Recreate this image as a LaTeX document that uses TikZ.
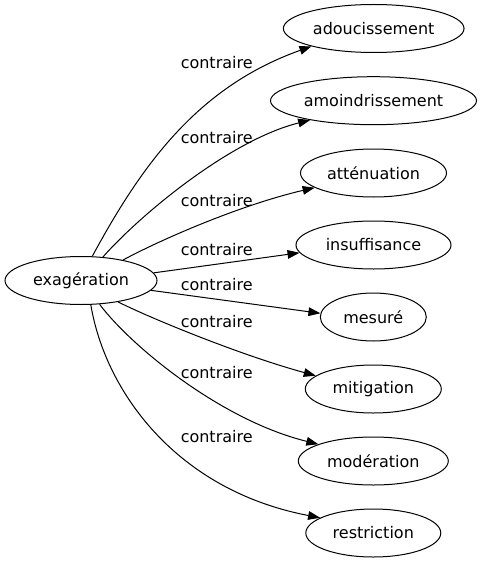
\documentclass[tikz,border=0pt]{standalone}
\usepackage{fontspec}
\setmainfont{DejaVu Sans}
\usetikzlibrary{arrows.meta,shapes.geometric}
\tikzset{
  word/.style={draw, ellipse, inner sep=0pt, minimum height=36pt, line width=0.75pt, font=\fontsize{12}{14}\selectfont},
  rel/.style={draw, line width=0.75pt, -{Triangle[length=9pt,width=6.5pt]}},
  lab/.style={font=\fontsize{12}{14}\selectfont, inner sep=0pt}
}
\begin{document}
\begin{tikzpicture}[x=0.75pt,y=-0.75pt]
\useasboundingbox (0,0) rectangle (482,563);
\node[word, minimum width=114pt] (ex) at (81,280.5) {exagération};
\node[word, minimum width=135.5pt] (t1) at (373.7,28.5) {adoucissement};
\node[word, minimum width=154.5pt] (t2) at (373.5,100.7) {amoindrissement};
\node[word, minimum width=109.5pt] (t3) at (373.5,173) {atténuation};
\node[word, minimum width=116.25pt] (t4) at (373.5,245) {insuffisance};
\node[word, minimum width=79.5pt] (t5) at (373.3,317) {mesuré};
\node[word, minimum width=102pt] (t6) at (373.3,389) {mitigation};
\node[word, minimum width=112.5pt] (t7) at (373.3,461) {modération};
\node[word, minimum width=101.25pt] (t8) at (373.3,533) {restriction};

\draw[rel] (ex.65) .. controls (141.7,165) and (197.7,86.7) .. (t1.196.4);
\draw[rel] (ex.47.5) .. controls (140,215) and (230,140) .. (t2.197.8);
\draw[rel] (ex.26.7) .. controls (160,240) and (240,205) .. (t3.194.9);
\draw[rel] (ex.6.8) -- (t4.186.5);
\draw[rel] (ex.-8.9) -- (t5.176);
\draw[rel] (ex.-30) .. controls (150,318) and (240,355) .. (t6.167);
\draw[rel] (ex.-52) .. controls (130,345) and (220,420) .. (t7.163.9);
\draw[rel] (ex.-68.2) .. controls (105,390) and (175,490) .. (t8.164.3);

\node[lab] (l1) at (216.7,63) {contraire};
\node[lab] (l2) at (216.7,138) {contraire};
\node[lab] (l3) at (216.7,201) {contraire};
\node[lab] (l4) at (216.7,250) {contraire};
\node[lab] (l5) at (216.7,285) {contraire};
\node[lab] (l6) at (216.7,322) {contraire};
\node[lab] (l7) at (216.7,373) {contraire};
\node[lab] (l8) at (216.7,437) {contraire};
\end{tikzpicture}
\end{document}
